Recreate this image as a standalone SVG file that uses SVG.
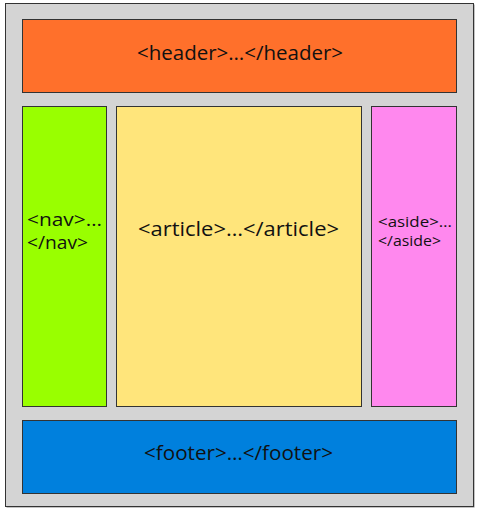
<svg xmlns="http://www.w3.org/2000/svg" width="480" height="510" viewBox="0 0 480 510">
<style>
.box{stroke:#333;stroke-width:1}
.t{font-family:"Open Sans","Liberation Sans",sans-serif;fill:#111}
.big{font-size:20px}
</style>
<rect width="480" height="510" fill="#fff"/>
<g id="page">
<rect x="6.5" y="4.5" width="468" height="503" fill="#888"/>
<rect x="5.5" y="3.5" width="468" height="503" fill="#d4d4d4" class="box"/>
</g>
<g id="header">
<rect x="22.5" y="19.5" width="434" height="73" fill="#ff702b" class="box"/>
<text class="t big" x="137" y="60" textLength="206" lengthAdjust="spacingAndGlyphs">&lt;header&gt;…&lt;/header&gt;</text>
</g>
<g id="nav">
<rect x="22.5" y="106.5" width="84" height="300" fill="#99ff00" class="box"/>
<text class="t" font-size="18.5" x="27" y="225.5" textLength="75" lengthAdjust="spacingAndGlyphs">&lt;nav&gt;…</text>
<text class="t" font-size="18.5" x="27" y="248.5" textLength="61" lengthAdjust="spacingAndGlyphs">&lt;/nav&gt;</text>
</g>
<g id="article">
<rect x="116.5" y="106.5" width="245" height="300" fill="#ffe57b" class="box"/>
<text class="t big" x="138" y="236" textLength="201" lengthAdjust="spacingAndGlyphs">&lt;article&gt;…&lt;/article&gt;</text>
</g>
<g id="aside">
<rect x="371.5" y="106.5" width="85" height="300" fill="#ff88ee" class="box"/>
<text class="t" font-size="14" x="378" y="227" textLength="74" lengthAdjust="spacingAndGlyphs">&lt;aside&gt;…</text>
<text class="t" font-size="14" x="378" y="245.5" textLength="63" lengthAdjust="spacingAndGlyphs">&lt;/aside&gt;</text>
</g>
<g id="footer">
<rect x="22.5" y="420.5" width="434" height="73" fill="#0080dd" class="box"/>
<text class="t big" x="144" y="460" textLength="189" lengthAdjust="spacingAndGlyphs">&lt;footer&gt;…&lt;/footer&gt;</text>
</g>
<g id="connectors"></g>
</svg>
